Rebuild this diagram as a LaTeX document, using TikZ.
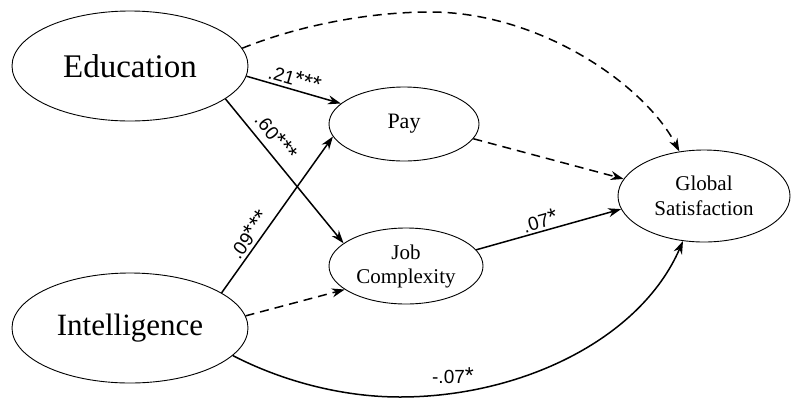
\documentclass[tikz,border=0pt]{standalone}
\usepackage{fontspec}
\setmainfont{Liberation Serif}
\newfontfamily\labelfont{Liberation Sans}
\usetikzlibrary{shapes.geometric,arrows.meta}

% coefficient label: numeral followed by significance stars
\newcommand{\coefstars}[2]{#1{\fontsize{23}{20}\selectfont #2}}

\tikzset{
  latent/.style={ellipse, draw, line width=0.9pt, inner sep=0pt, align=center},
  path/.style={line width=1.5pt, -{Stealth[length=13pt,width=9pt]}},
  nspath/.style={path, dash pattern=on 9pt off 6pt},
  coef/.style={font=\labelfont\fontsize{19}{21}\selectfont, inner sep=2pt}
}

\begin{document}
\begin{tikzpicture}[x=1pt,y=-1pt]
  \useasboundingbox (0,0) rectangle (794,400);

  % latent constructs
  \node[latent, minimum width=236pt, minimum height=110pt,
        font=\fontsize{33}{36}\selectfont] (edu) at (130,66) {Education};
  \node[latent, minimum width=236pt, minimum height=110pt,
        font=\fontsize{31}{36}\selectfont] (intel) at (130,328) {Intelligence};
  \node[latent, minimum width=150pt, minimum height=74pt,
        font=\fontsize{22}{25}\selectfont] (pay) at (404,124) {Pay};
  \node[latent, minimum width=154pt, minimum height=76pt,
        font=\fontsize{21}{24}\selectfont] (job) at (406,266) {Job\\Complexity};
  \node[latent, minimum width=172pt, minimum height=92pt,
        font=\fontsize{21}{25}\selectfont] (gs) at (704,196) {Global\\Satisfaction};

  % apex points of the two long curved paths
  \coordinate (topapex) at (430,12);
  \coordinate (botapex) at (400,397);

  % significant paths
  \draw[path] (edu.-5) -- node[coef, pos=0.48, sloped, above=1pt] {\coefstars{.21}{***}} (pay.162);
  \draw[path] (edu.-19) -- node[coef, pos=0.33, sloped, above=5pt] {\coefstars{.60}{***}} (job.160);
  \draw[path] (intel.21) -- node[coef, pos=0.33, sloped, above=1pt] {\coefstars{.09}{***}} (pay.190);
  \draw[path] (job.13) -- node[coef, pos=0.46, sloped, above] {\coefstars{.07}{*}} (gs.189);
  \draw[path] (intel.-15) .. controls (280,380) and (340,397) .. (botapex)
        .. controls (520,397) and (640,340) .. (gs.245);
  \node[coef] (neglab) at (453,376) {\coefstars{-.07}{*}};

  % non-significant paths
  \draw[nspath] (intel.6) -- (job.201);
  \draw[nspath] (pay.-12) -- (gs.168);
  \draw[nspath] (edu.9) .. controls (300,25) and (370,12) .. (topapex)
        .. controls (540,12) and (645,85) .. (gs.119);
\end{tikzpicture}
\end{document}
